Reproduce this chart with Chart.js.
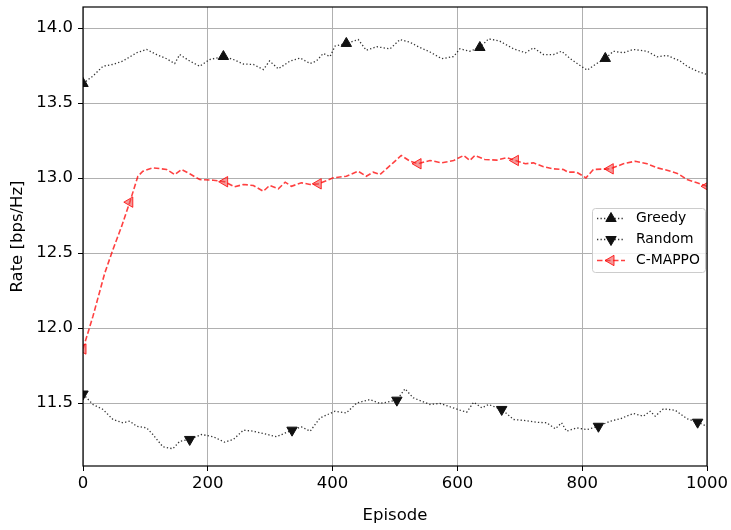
<!DOCTYPE html>
<html>
<head>
<meta charset="utf-8">
<script src="https://cdn.jsdelivr.net/npm/chart.js@4.4.0/dist/chart.umd.min.js"></script>
<style>
  body { margin: 0; background: #fff; }
  #wrap { width: 731px; height: 530px; position: relative; }
</style>
</head>
<body>
<div id="wrap"><canvas id="rateChart"></canvas></div>
<script>
// data
const xTicks = [0, 200, 400, 600, 800, 1000];
const yTicks = [11.5, 12.0, 12.5, 13.0, 13.5, 14.0];

const greedyEp = [0, 16, 32, 48, 64, 86, 102, 118, 134, 147, 155, 171, 187, 203, 225, 241, 257, 273, 289, 299,
  313, 332, 348, 364, 374, 385, 396, 404, 422, 441, 454, 471, 492, 508, 524, 535, 556, 575, 594, 604,
  620, 636, 650, 668, 690, 709, 722, 738, 754, 767, 781, 794, 808, 821, 837, 850, 866, 882, 904, 920,
  936, 957, 968, 984, 1000];
const greedyRate = [13.63, 13.68, 13.745, 13.757, 13.78, 13.835, 13.857, 13.823, 13.795, 13.763, 13.823, 13.78, 13.745, 13.79, 13.81, 13.79, 13.76, 13.757, 13.723, 13.78,
  13.728, 13.78, 13.80, 13.763, 13.78, 13.83, 13.81, 13.88, 13.897, 13.923, 13.852, 13.875, 13.861, 13.923, 13.905, 13.88, 13.84, 13.795, 13.81, 13.861,
  13.845, 13.87, 13.928, 13.912, 13.861, 13.835, 13.868, 13.823, 13.823, 13.845, 13.795, 13.757, 13.719, 13.757, 13.797, 13.845, 13.835, 13.857, 13.845, 13.808,
  13.817, 13.78, 13.745, 13.712, 13.69];
const greedyMarks = [0, 225, 422, 636, 837];

const randomEp = [0, 16, 32, 48, 64, 75, 86, 102, 112, 128, 144, 155, 171, 190, 209, 227, 241, 257, 273, 289,
  310, 335, 350, 364, 380, 404, 422, 439, 460, 476, 503, 516, 529, 556, 572, 588, 604, 615, 626, 639,
  650, 671, 690, 709, 727, 743, 757, 767, 775, 791, 808, 826, 845, 861, 882, 898, 909, 917, 930, 949,
  968, 985, 1000];
const randomRate = [11.56, 11.49, 11.457, 11.39, 11.368, 11.379, 11.345, 11.334, 11.29, 11.208, 11.195, 11.245, 11.257, 11.29, 11.275, 11.239, 11.257, 11.319, 11.312, 11.297,
  11.275, 11.319, 11.341, 11.312, 11.401, 11.445, 11.434, 11.501, 11.523, 11.497, 11.519, 11.595, 11.535, 11.49, 11.497, 11.475, 11.452, 11.439, 11.505, 11.468,
  11.49, 11.457, 11.39, 11.383, 11.372, 11.368, 11.328, 11.368, 11.312, 11.334, 11.323, 11.345, 11.379, 11.395, 11.43, 11.412, 11.445, 11.412, 11.461, 11.452,
  11.395, 11.372, 11.345];
const randomMarks = [0, 171, 335, 503, 671, 826, 985];

const mappoEp = [0, 16, 35, 48, 62, 75, 88, 96, 112, 134, 147, 158, 171, 187, 209, 227, 243, 257, 273, 289,
  299, 313, 324, 334, 350, 364, 377, 401, 422, 441, 454, 465, 476, 497, 510, 524, 537, 556, 575, 594,
  610, 620, 628, 644, 663, 679, 693, 709, 722, 738, 754, 770, 777, 791, 806, 818, 845, 866, 885, 904,
  920, 936, 954, 968, 984, 1000];
const mappoRate = [11.86, 12.079, 12.368, 12.523, 12.679, 12.839, 13.012, 13.045, 13.068, 13.057, 13.023, 13.057, 13.028, 12.99, 12.985, 12.975, 12.941, 12.957, 12.95, 12.912,
  12.95, 12.928, 12.972, 12.945, 12.968, 12.957, 12.961, 13.001, 13.012, 13.045, 13.012, 13.039, 13.023, 13.101, 13.15, 13.112, 13.095, 13.117, 13.101, 13.117,
  13.15, 13.117, 13.15, 13.123, 13.119, 13.135, 13.117, 13.095, 13.101, 13.075, 13.061, 13.057, 13.039, 13.039, 13.001, 13.057, 13.061, 13.095, 13.112, 13.095,
  13.068, 13.052, 13.028, 12.99, 12.968, 12.945];
const mappoMarks = [0, 75, 227, 377, 537, 693, 845, 1000];

const toPoints = (eps, vals) => eps.map((e, i) => ({ x: e, y: vals[i] }));
const markAt = (marks, r) => ctx => (ctx.raw && marks.includes(ctx.raw.x)) ? r : 0;

Chart.defaults.font.family = "'DejaVu Sans', sans-serif";
Chart.defaults.font.size = 16.5;
Chart.defaults.color = '#000';

// triangle marker for the legend
function tri(ctx, x, y, r, rotDeg) {
  let a = rotDeg * Math.PI / 180;
  ctx.beginPath();
  for (let k = 0; k < 3; k++) {
    const px = x + Math.sin(a) * r, py = y - Math.cos(a) * r;
    if (k === 0) ctx.moveTo(px, py); else ctx.lineTo(px, py);
    a += 2 * Math.PI / 3;
  }
  ctx.closePath();
  ctx.fill();
  ctx.stroke();
}

const legendItems = [
  { label: 'Greedy', color: 'rgba(0,0,0,0.8)', dash: [1.3, 2.2], width: 1.3, fill: '#111', edge: '#111', rot: 0 },
  { label: 'Random', color: 'rgba(0,0,0,0.8)', dash: [1.3, 2.2], width: 1.3, fill: '#111', edge: '#111', rot: 180 },
  { label: 'C-MAPPO', color: 'rgba(255,0,0,0.75)', dash: [5.5, 2.5], width: 1.6, fill: 'rgba(235,70,70,0.55)', edge: 'rgba(255,0,0,0.8)', rot: 270 }
];

const framePlugin = {
  id: 'frame',
  afterDraw(chart) {
    const { ctx, chartArea: a } = chart;
    ctx.save();
    ctx.strokeStyle = '#000';
    ctx.lineWidth = 1.2;
    ctx.strokeRect(a.left, a.top, a.right - a.left, a.bottom - a.top);

    // legend box
    const bx = 592, by = 208, bw = 113, bh = 64;
    ctx.beginPath();
    ctx.roundRect(bx + 0.5, by + 0.5, bw, bh, 3);
    ctx.fillStyle = 'rgba(255,255,255,0.8)';
    ctx.fill();
    ctx.strokeStyle = '#cccccc';
    ctx.lineWidth = 1;
    ctx.stroke();
    legendItems.forEach((it, i) => {
      const y = by + 10.5 + i * 21;
      ctx.strokeStyle = it.color;
      ctx.lineWidth = it.width;
      ctx.setLineDash(it.dash);
      ctx.beginPath();
      ctx.moveTo(597, y);
      ctx.lineTo(625, y);
      ctx.stroke();
      ctx.setLineDash([]);
      ctx.fillStyle = it.fill;
      ctx.strokeStyle = it.edge;
      ctx.lineWidth = 1;
      tri(ctx, 611, y, 6, it.rot);
      ctx.fillStyle = '#000';
      ctx.font = "13.9px 'DejaVu Sans'";
      ctx.textBaseline = 'middle';
      ctx.textAlign = 'left';
      ctx.fillText(it.label, 636, y);
    });
    ctx.restore();
  }
};

const ctxEl = document.getElementById('rateChart').getContext('2d');
new Chart(ctxEl, {
  type: 'line',
  data: {
    datasets: [{
      label: 'Greedy',
      data: toPoints(greedyEp, greedyRate),
      borderColor: 'rgba(0,0,0,0.8)',
      borderWidth: 1.3,
      borderDash: [1.3, 2.2],
      pointStyle: 'triangle',
      pointRadius: markAt(greedyMarks, 6),
      pointBackgroundColor: '#111',
      pointBorderColor: '#111',
      pointBorderWidth: 1
    }, {
      label: 'Random',
      data: toPoints(randomEp, randomRate),
      borderColor: 'rgba(0,0,0,0.8)',
      borderWidth: 1.3,
      borderDash: [1.3, 2.2],
      pointStyle: 'triangle',
      pointRotation: 180,
      pointRadius: markAt(randomMarks, 6),
      pointBackgroundColor: '#111',
      pointBorderColor: '#111',
      pointBorderWidth: 1
    }, {
      label: 'C-MAPPO',
      data: toPoints(mappoEp, mappoRate),
      borderColor: 'rgba(255,0,0,0.75)',
      borderWidth: 1.6,
      borderDash: [5.5, 2.5],
      pointStyle: 'triangle',
      pointRotation: 270,
      pointRadius: markAt(mappoMarks, 6),
      pointBackgroundColor: 'rgba(235,70,70,0.55)',
      pointBorderColor: 'rgba(255,0,0,0.8)',
      pointBorderWidth: 1
    }]
  },
  options: {
    responsive: true,
    maintainAspectRatio: false,
    animation: false,
    layout: { padding: { left: 0, right: 24, top: 7, bottom: 0 } },
    plugins: {
      legend: { display: false },
      tooltip: { enabled: false }
    },
    scales: {
      x: {
        type: 'linear',
        min: 0,
        max: 1000,
        afterBuildTicks: s => { s.ticks = xTicks.map(v => ({ value: v })); },
        afterFit: s => { s.height = 64; s.paddingLeft = 0; s.paddingRight = 0; },
        ticks: { padding: 3, maxRotation: 0, callback: v => String(v) },
        grid: { color: '#b0b0b0', lineWidth: 1, tickColor: '#000', tickLength: 5 },
        border: { display: false },
        title: { display: true, text: 'Episode', padding: { top: 0, bottom: 4 } }
      },
      y: {
        min: 11.08,
        max: 14.14,
        afterBuildTicks: s => { s.ticks = yTicks.map(v => ({ value: v })); },
        afterFit: s => { s.width = 83; s.paddingTop = 0; s.paddingBottom = 0; },
        ticks: { padding: 5, callback: v => v.toFixed(1) },
        grid: { color: '#b0b0b0', lineWidth: 1, tickColor: '#000', tickLength: 5 },
        border: { display: false },
        title: { display: true, text: 'Rate [bps/Hz]', padding: { top: 8, bottom: 0 } }
      }
    }
  },
  plugins: [framePlugin]
});
</script>
</body>
</html>
